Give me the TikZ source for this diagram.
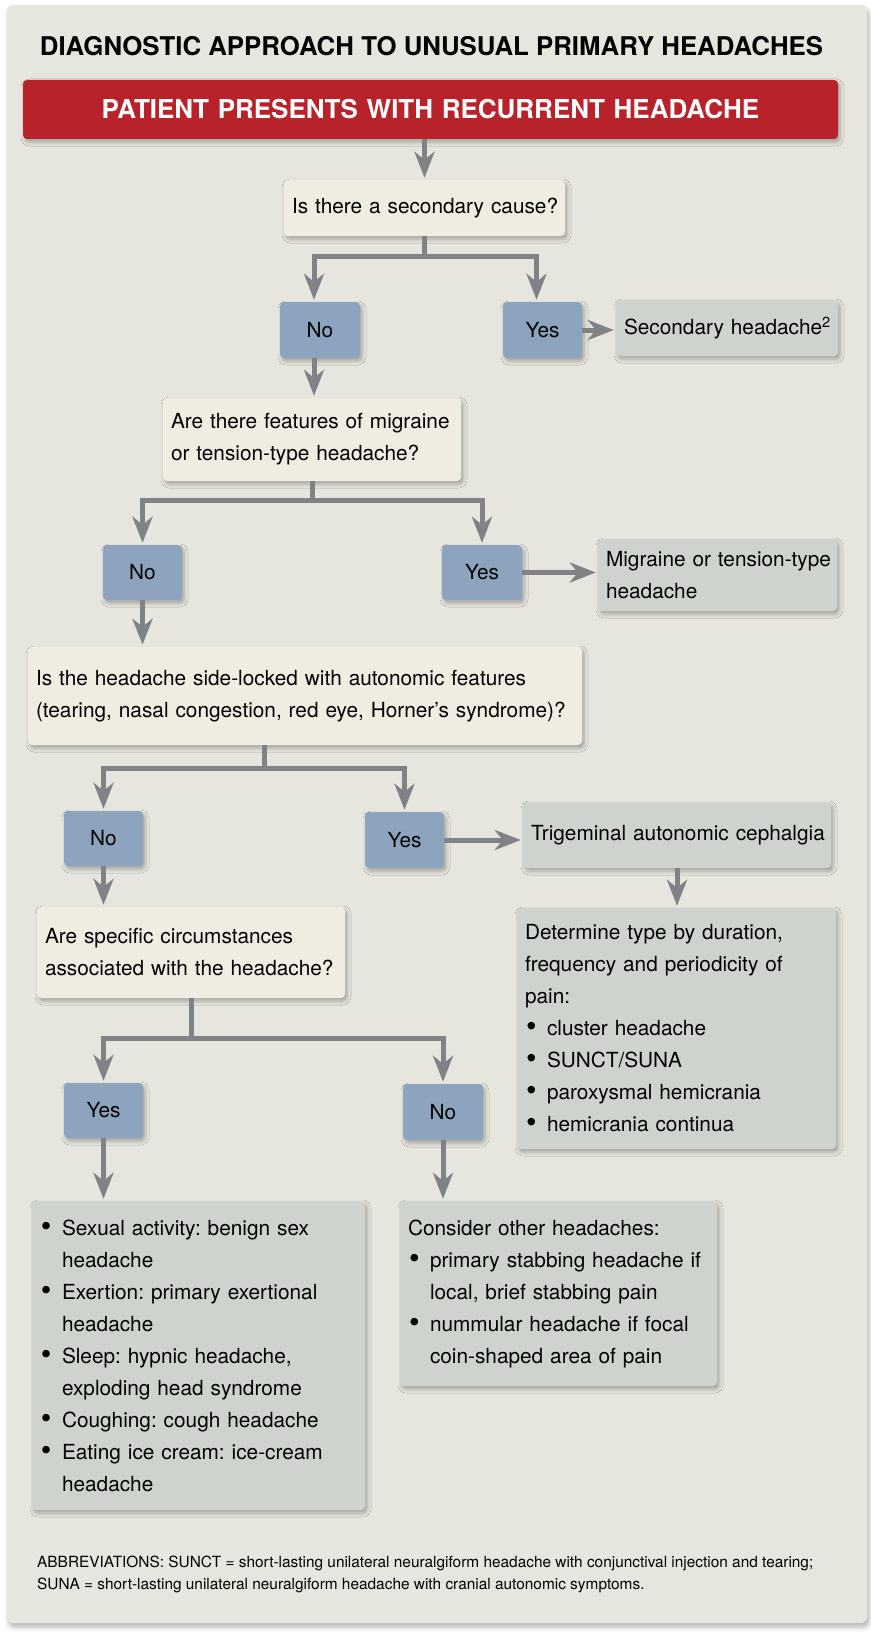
\documentclass[tikz,border=0pt]{standalone}
\usepackage{fontspec}
\setmainfont{TeX Gyre Heros}
\usetikzlibrary{arrows.meta,shadows.blur}
\definecolor{panelbg}{HTML}{E6E6DE}
\definecolor{headred}{HTML}{B7222B}
\definecolor{askcream}{HTML}{F0ECE2}
\definecolor{ansblue}{HTML}{8CA4BD}
\definecolor{resgray}{HTML}{CFD3CD}
\definecolor{flowgray}{HTML}{808286}
\newcommand{\bul}{\makebox[22pt][l]{\hspace{1pt}\raisebox{-1.5pt}{\scalebox{1.45}{\textbullet}}}}
\newcommand{\ind}{\hspace*{22pt}}

\tikzset{
  box/.style 2 args={rounded corners=4pt, inner xsep=0pt, inner ysep=0pt,
    minimum width=#1, minimum height=#2, text width=#1,
    font=\fontsize{20.8}{32}\selectfont,
    blur shadow={shadow xshift=2pt, shadow yshift=-3pt, shadow blur radius=4pt, shadow opacity=30}},
  ask/.style={fill=askcream, align=left, execute at begin node={\leftskip=8pt}},
  ans/.style={fill=ansblue, align=center},
  result/.style={fill=resgray, align=left, execute at begin node={\leftskip=8pt}},
  flow/.style={draw=flowgray, line width=5pt, shorten >=2pt, -{Stealth[length=26pt,width=20pt,inset=8pt]}},
  bar/.style={draw=flowgray, line width=5pt},
}

\begin{document}
\frenchspacing
\begin{tikzpicture}[x=1pt,y=-1pt]
    \useasboundingbox (0,0) rectangle (870,1632);
    \fill[panelbg, rounded corners=6pt, blur shadow={shadow xshift=2pt, shadow yshift=-4pt, shadow blur radius=5pt, shadow opacity=30}] (7,5) rectangle (867,1623);
    \node (title) at (431.5,46.5) {\fontsize{25.8}{30}\selectfont\bfseries DIAGNOSTIC APPROACH TO UNUSUAL PRIMARY HEADACHES};
    \node[box={815pt}{59pt}, fill=headred, align=center, text=white, font=\fontsize{26}{30}\selectfont\bfseries] (start) at (430.5,109.5) {PATIENT PRESENTS WITH RECURRENT HEADACHE};

    % first question
    \node[box={281pt}{56pt}, ask, align=center] (q1) at (424.5,208) {Is there a secondary cause?};
    \node[box={80pt}{56pt}, ans] (no1) at (320,330) {No};
    \node[box={79pt}{56pt}, ans] (yes1) at (542.5,330) {Yes};
    \node[box={222pt}{56pt}, result] (sec) at (727,328) {Secondary headache\textsuperscript{2}};

    % second question
    \node[box={298pt}{83pt}, ask] (q2) at (312,439.5) {Are there features of migraine\\or tension-type headache?};
    \node[box={79pt}{55pt}, ans] (no2) at (142.5,572.5) {No};
    \node[box={80pt}{55pt}, ans] (yes2) at (482,572.5) {Yes};
    \node[box={239pt}{72pt}, result] (mig) at (717.5,575) {Migraine or tension-type\\headache};

    % third question
    \node[box={554pt}{98pt}, ask] (q3) at (305,696) {Is the headache side-locked with autonomic features\\(tearing, nasal congestion, red eye, Horner’s syndrome)?};
    \node[box={79pt}{55pt}, ans] (no3) at (103.5,838.5) {No};
    \node[box={79pt}{56pt}, ans] (yes3) at (404.5,840) {Yes};
    \node[box={308pt}{66pt}, result] (trig) at (677,835) {Trigeminal autonomic cephalgia};
    \node[box={319pt}{241pt}, result] (det) at (676.5,1028.5) {Determine type by duration,\\frequency and periodicity of\\pain:\\\bul cluster headache\\\bul SUNCT/SUNA\\\bul paroxysmal hemicrania\\\bul hemicrania continua};

    % fourth question
    \node[box={308pt}{91pt}, ask] (q4) at (191,952.5) {Are specific circumstances\\associated with the headache?};
    \node[box={79pt}{55pt}, ans] (yes4) at (103.5,1110.5) {Yes};
    \node[box={80pt}{56pt}, ans] (no4) at (443,1112) {No};
    \node[box={333pt}{309pt}, result] (lst) at (198.5,1355.5) {\bul Sexual activity: benign sex\\\ind headache\\\bul Exertion: primary exertional\\\ind headache\\\bul Sleep: hypnic headache,\\\ind exploding head syndrome\\\bul Coughing: cough headache\\\bul Eating ice cream: ice-cream\\\ind headache};
    \node[box={317pt}{185pt}, result] (oth) at (558.5,1293.5) {Consider other headaches:\\\bul primary stabbing headache if\\\ind local, brief stabbing pain\\\bul nummular headache if focal\\\ind coin-shaped area of pain};

    % connectors
    \draw[flow] (q1.north |- start.south) -- (q1.north);
    \draw[bar] (q1.south) -- ++(0,20.5) coordinate (b1);
    \draw[flow] (b1) -| ([xshift=-6pt]no1.north);
    \draw[flow] (b1) -| ([xshift=-6pt]yes1.north);
    \draw[flow] (yes1.east) -- (yes1.east -| sec.west);
    \draw[flow] ([xshift=-6pt]no1.south) -- ([xshift=-6pt]no1.south |- q2.north);

    \draw[bar] (q2.south) -- ++(0,19) coordinate (b2);
    \draw[flow] (b2) -| (no2.north);
    \draw[flow] (b2) -| (yes2.north);
    \draw[flow] (yes2.east) -- (yes2.east -| mig.west);
    \draw[flow] (no2.south) -- (no2.south |- q3.north);

    \draw[bar] ([xshift=-41pt]q3.south) -- ++(0,23) coordinate (b3);
    \draw[flow] (b3) -| (no3.north);
    \draw[flow] (b3) -| (yes3.north);
    \draw[flow] (yes3.east) -- (yes3.east -| trig.west);
    \draw[flow] (trig.south) -- (trig.south |- det.north);
    \draw[flow] (no3.south) -- (no3.south |- q4.north);

    \draw[bar] (q4.south) -- ++(0,40) coordinate (b4);
    \draw[flow] (b4) -| (yes4.north);
    \draw[flow] (b4) -| (no4.north);
    \draw[flow] (yes4.south) -- (yes4.south |- lst.north);
    \draw[flow] (no4.south) -- (no4.south |- oth.north);

    \node[anchor=west, align=left, inner sep=0pt, font=\fontsize{15.4}{22}\selectfont] (abbr) at (37,1574) {ABBREVIATIONS: SUNCT = short-lasting unilateral neuralgiform headache with conjunctival injection and tearing;\\SUNA = short-lasting unilateral neuralgiform headache with cranial autonomic symptoms.};
\end{tikzpicture}
\end{document}
